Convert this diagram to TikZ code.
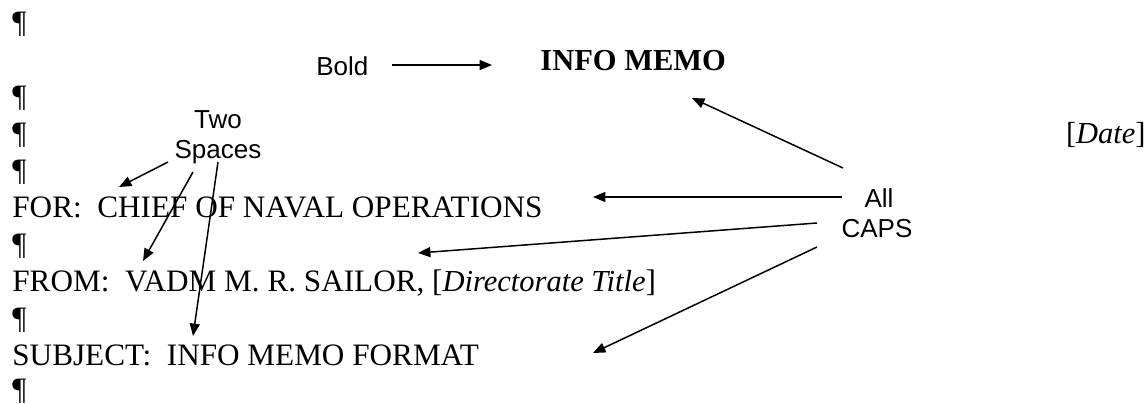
\documentclass[tikz,border=0pt]{standalone}
\usepackage{fontspec}
\setmainfont{Liberation Serif}
\newfontfamily\labelfont{Liberation Sans}
\usetikzlibrary{arrows.meta}
\frenchspacing

\begin{document}
\begin{tikzpicture}[x=0.5pt,y=-0.5pt,
  memo/.style={inner sep=0pt, anchor=base west, font=\fontsize{15.6}{18}\selectfont},
  memobold/.style={memo, font=\fontsize{15.25}{18}\selectfont\bfseries},
  note/.style={inner sep=0pt, anchor=base, font=\labelfont\fontsize{13}{15}\selectfont},
  pointer/.style={line width=0.75pt, -{Triangle[length=6.2pt,width=5pt]}}]
\useasboundingbox (0,0) rectangle (1147,403);

% memo text, one line per paragraph
\node[memo] (p1) at (12,32) {¶};
\node[memobold] (title) at (540,70) {INFO MEMO};
\node[memo] (p2) at (12,106) {¶};
\node[memo] (p3) at (12,143) {¶};
\node[memo, anchor=base east, font=\fontsize{15.25}{18}\selectfont] (date) at (1146,143) {[\textit{Date}]};
\node[memo] (p4) at (12,180) {¶};
\node[memo] (for) at (12,217) {FOR:\ \ CHIEF OF NAVAL OPERATIONS};
\node[memo] (p5) at (12,254) {¶};
\node[memo] (from) at (12,291) {FROM:\ \ VADM M. R. SAILOR, [{\fontsize{15.25}{18}\selectfont\itshape Directorate Title}]};
\node[memo] (p6) at (12,328) {¶};
\node[memo] (subj) at (12,365) {SUBJECT:\ \ INFO MEMO FORMAT};
\node[memo] (p7) at (12,399) {¶};

% annotations
\node[note, anchor=base west] (bold) at (316,75) {Bold};
\node[note] (two) at (218,128) {Two};
\node[note] (spaces) at (218,158) {Spaces};
\node[note] (all) at (879,207) {All};
\node[note] (caps) at (877,237) {CAPS};

% arrow ends
\coordinate (boldstart) at (392,65);
\coordinate (titletip) at (492,65);
\coordinate (capsA) at (843,168);
\coordinate (capsB) at (842,197);
\coordinate (capsC) at (817,223);
\coordinate (capsD) at (817,247);
\coordinate (titlegap) at (692,98);
\coordinate (forgap) at (593,197);
\coordinate (fromgap) at (418,253);
\coordinate (subjgap) at (593,353);
\coordinate (spA) at (168,162);
\coordinate (spB) at (193,172);
\coordinate (spC) at (218,162);
\coordinate (forsp) at (119,187);
\coordinate (fromsp) at (143,261);
\coordinate (subjsp) at (193,336);

\draw[pointer] (boldstart) -- (titletip);
\draw[pointer] (capsA) -- (titlegap);
\draw[pointer] (capsB) -- (forgap);
\draw[pointer] (capsC) -- (fromgap);
\draw[pointer] (capsD) -- (subjgap);
\draw[pointer] (spA) -- (forsp);
\draw[pointer] (spB) -- (fromsp);
\draw[pointer] (spC) -- (subjsp);
\end{tikzpicture}
\end{document}
